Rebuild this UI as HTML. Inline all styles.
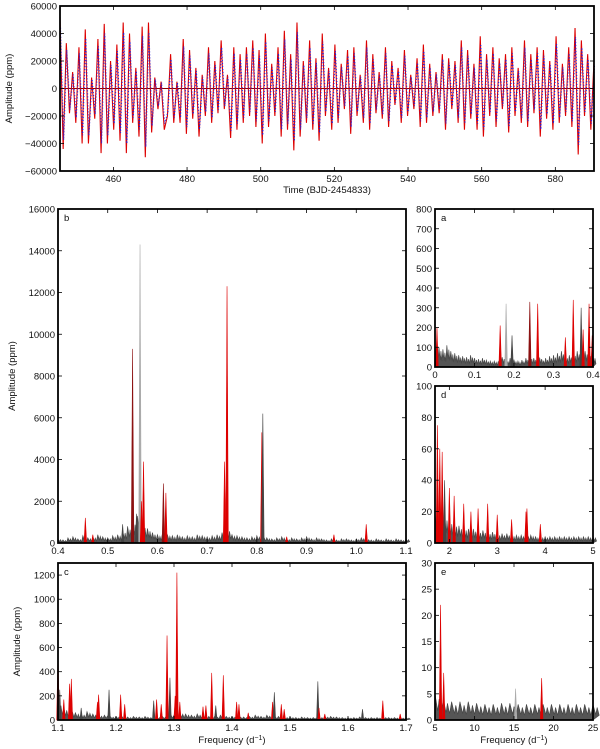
<!DOCTYPE html>
<html><head><meta charset="utf-8"><style>
body{margin:0;background:#fff;}
svg{display:block;font-family:"Liberation Sans","DejaVu Sans",sans-serif;}
</style></head><body>
<svg id="fig" width="600" height="749" viewBox="0 0 600 749" xmlns="http://www.w3.org/2000/svg"></svg>
<script>
// ---- time series data (successive extrema, ppm) ----
const tsStart = 445.5, tsEnd = 590.5;
const tsExtrema = [52000,-44000,33000,-18000,12000,-25000,30000,-40000,43000,-40000,8000,-22000,36000,-47000,47000,-40000,20000,-30000,32000,-38000,48000,-47000,40000,-25000,15000,-35000,45000,-50000,48000,-32000,8000,-15000,5000,-30000,-20000,25000,-25000,5000,-25000,36000,-33000,28000,-22000,15000,-35000,10000,-20000,30000,-25000,20000,-18000,35000,-15000,10000,-36000,30000,-30000,25000,-25000,30000,-20000,35000,-28000,28000,-40000,40000,-28000,18000,-20000,30000,-35000,42000,-30000,25000,-45000,48000,-35000,20000,-25000,35000,-30000,22000,-38000,40000,-20000,15000,-30000,32000,-25000,18000,-15000,28000,-33000,30000,-20000,10000,-25000,35000,-30000,25000,-18000,12000,-22000,30000,-28000,20000,-12000,15000,-25000,28000,-20000,10000,-15000,22000,-28000,32000,-25000,18000,-20000,12000,-18000,25000,-30000,22000,-15000,20000,-25000,35000,-30000,28000,-22000,18000,-30000,38000,-35000,25000,-20000,30000,-28000,22000,-15000,25000,-32000,30000,-20000,15000,-25000,35000,-28000,25000,-18000,30000,-35000,28000,-22000,20000,-30000,38000,-25000,18000,-20000,30000,-28000,44000,-48000,35000,-20000,25000,-30000,20000];
// ---- spectra data ----
const bNoise = [200,150,250,300,200,350,250,300,400,300,250,350,400,600,800,1100,1300,900,700,500,400,450,400,350,400,300,350,300,400,350,300,350,400,500,700,400,350,300,250,300,350,300,250,200,250,300,200,250,200,250,300,200,250,200,150,200,150,200,200,150,200,250,200,150,200,150,200,150,200,150,200];
const bFreq = [0.455,0.47,0.53,0.55,0.558,0.565,0.568,0.572,0.612,0.617,0.735,0.74,0.81,0.812,0.86,0.955,1.02];
const bAmp  = [1200,400,900,9300,1400,14300,2000,3900,2850,2400,3900,12300,5300,6200,300,400,900];
const bCol  = ['r','r','g','d','g','l','r','r','d','r','r','r','r','g','r','r','r'];
const aNoise = [120,100,90,110,80,70,60,55,50,60,45,40,45,35,30,30,28,50,35,45,35,30,35,45,50,45,60,40,45,55,60,70,80,55,60,70,80,100,80,70,55];
const aFreq = [0.005,0.165,0.18,0.195,0.24,0.26,0.33,0.35,0.37,0.375,0.39,0.398];
const aAmp  = [200,210,320,160,330,320,150,340,300,190,320,160];
const aCol  = ['r','r','l','g','d','r','r','r','g','r','r','r'];
const dNoise = [20,25,18,15,13,11,10,9,9,8,8,7,7,6,6,6,5,5,5,5,5,4,4,4,4,4,4,4,4,4,4,4,4,4];
const dFreq = [1.75,1.8,1.85,1.9,2.0,2.1,2.3,2.45,2.6,2.8,3.0,3.3,3.6,3.62,3.9];
const dAmp  = [75,60,58,40,35,30,25,20,22,25,18,15,20,22,12];
const dCol  = ['r','r','r','g','r','r','r','r','r','r','r','r','r','r','r'];
const eNoise = [5,4,3.5,3.5,3.5,3.2,3,3,3.2,3.2,3,3,3,3,3,3,3,3,3,3];
const eFreq = [5.7,6.1,15.2,18.5];
const eAmp  = [22,9,6,8];
const eCol  = ['r','r','l','r'];
const cNoise = [150,100,80,60,50,70,50,40,40,30,30,30,25,30,25,30,20,25,30,50,40,60,50,40,50,40,30,30,40,30,30,30,25,30,40,30,40,30,30,25,25,20,25,20,20,25,30,30,25,20,20,20,25,20,20,20,25,20,20,20,20];
const cFreq = [1.1,1.103,1.11,1.12,1.123,1.14,1.168,1.17,1.188,1.208,1.215,1.265,1.27,1.278,1.288,1.293,1.302,1.305,1.31,1.35,1.355,1.365,1.372,1.385,1.408,1.412,1.428,1.47,1.473,1.485,1.49,1.548,1.55,1.56,1.625,1.66,1.69];
const cAmp  = [580,250,170,300,340,100,150,210,250,210,130,160,170,130,700,350,200,1220,150,110,120,390,120,370,150,130,60,150,230,130,90,320,100,50,90,160,50];
const cCol  = ['r','g','r','r','r','g','r','r','g','r','r','g','r','r','r','g','r','r','r','r','r','r','g','r','r','r','r','r','g','r','r','g','r','r','g','r','r'];

const svg = document.getElementById('fig');
const NS = 'http://www.w3.org/2000/svg';
function mk(tag, attrs, parent){const e=document.createElementNS(NS,tag);for(const k in attrs)e.setAttribute(k,attrs[k]);(parent||svg).appendChild(e);return e;}
const colMap = {r:'#dd0000', d:'#8b1010', g:'#444', l:'#aaa'};

function axes(name, x0,x1,y0,y1, xd,yd, xt,yt, xfmt, yfmt, letter, ylab, xlab){
  const g = mk('g',{});
  
  
  const sx = v => x0 + (v-xd[0])/(xd[1]-xd[0])*(x1-x0);
  const sy = v => y1 - (v-yd[0])/(yd[1]-yd[0])*(y1-y0);
  return {g,sx,sy,finish(){
    const fr = mk('rect',{x:x0,y:y0,width:x1-x0,height:y1-y0,fill:'none',stroke:'#000','stroke-width':1.8},g);
    
    
    xt.forEach(v=>{const x=sx(v);
      mk('line',{x1:x,x2:x,y1:y1,y2:y1-4,stroke:'#000','stroke-width':0.8},g);
      mk('line',{x1:x,x2:x,y1:y0,y2:y0+4,stroke:'#000','stroke-width':0.8},g);
      const t=mk('text',{x:x,y:y1+11,'font-size':9.5,'text-anchor':'middle',fill:'#111'},g);t.textContent=xfmt(v);
      
      });
    yt.forEach(v=>{const y=sy(v);
      mk('line',{x1:x0,x2:x0+4,y1:y,y2:y,stroke:'#000','stroke-width':0.8},g);
      mk('line',{x1:x1,x2:x1-4,y1:y,y2:y,stroke:'#000','stroke-width':0.8},g);
      const t=mk('text',{x:x0-3,y:y+3.5,'font-size':9.5,'text-anchor':'end',fill:'#111'},g);t.textContent=yfmt(v);
      
      });
    if(letter){const t=mk('text',{x:x0+6,y:y0+12,'font-size':9.5,fill:'#111'},g);t.textContent=letter;
      
      }
    if(ylab){const cy=(y0+y1)/2;const t=mk('text',{x:ylab,y:cy,'font-size':9.5,'text-anchor':'middle',fill:'#111',transform:`rotate(-90 ${ylab} ${cy})`},g);t.textContent='Amplitude (ppm)';
      
      }
    if(xlab){const t=mk('text',{x:(x0+x1)/2,y:y1+xlab,'font-size':9.5,'text-anchor':'middle',fill:'#111'},g);t.innerHTML=xlab===22?'Time (BJD-2454833)':'Frequency (d<tspan dy="-3" font-size="7">−1</tspan><tspan dy="3">)</tspan>';
      
      }
  }};
}

function spectrum(name, box, xd, yd, xt, yt, xfmt, letter, ylab, xlab, noise, freqs, amps, cols){
  const A = axes(name, box[0],box[1],box[2],box[3], xd, yd, xt, yt, xfmt, v=>String(v), letter, ylab, xlab);
  const n = noise.length, step=(xd[1]-xd[0])/(n-1);
  let pts = `${A.sx(xd[0])},${A.sy(0)} `;
  noise.forEach((v,i)=>{
    const f = xd[0]+i*step;
    pts += `${A.sx(f)},${A.sy(v)} ${A.sx(f+step*0.33)},${A.sy(v*0.35)} ${A.sx(f+step*0.5)},${A.sy(v*0.8)} ${A.sx(f+step*0.75)},${A.sy(v*0.3)} `;
  });
  pts += `${A.sx(xd[1])},${A.sy(0)}`;
  const ns = mk('polygon',{points:pts,fill:'#555',stroke:'#444','stroke-width':0.6},A.g);
  
  
  freqs.forEach((f,i)=>{
    const x=A.sx(f);
    const p = mk('path',{d:`M${x-1.3},${A.sy(0)} L${x},${A.sy(amps[i])} L${x+1.3},${A.sy(0)} Z`,fill:colMap[cols[i]],stroke:colMap[cols[i]],'stroke-width':0.6},A.g);
    
    
  });
  A.finish();
}

// top time series
(function(){
  const A = axes('time-series-panel',60,594,6,171,[tsStart,tsEnd],[-60000,60000],[460,480,500,520,540,560,580],[-60000,-40000,-20000,0,20000,40000,60000],v=>String(v),v=>v<0?'−'+(-v):String(v),null,12,22);
  const step=(tsEnd-tsStart)/(tsExtrema.length-1);
  const zl = mk('line',{x1:A.sx(tsStart),x2:A.sx(tsEnd),y1:A.sy(0),y2:A.sy(0),stroke:'#8b0000','stroke-width':1},A.g);
  
  
  const pts = tsExtrema.map((v,i)=>`${A.sx(tsStart+i*step)},${A.sy(v)}`).join(' ');
  const red = mk('polyline',{points:pts,fill:'none',stroke:'#dd0000','stroke-width':1.1},A.g);
  
  
  const bpts = tsExtrema.map((v,i)=>`${A.sx(tsStart+(i+0.15)*step)},${A.sy(v*0.85)}`).join(' ');
  const blue = mk('polyline',{points:bpts,fill:'none',stroke:'#2020dd','stroke-width':1.2,'stroke-dasharray':'1 2'},A.g);
  
  
  A.finish();
})();

spectrum('panel-b',[58,406,209,543],[0.4,1.1],[0,16000],[0.4,0.5,0.6,0.7,0.8,0.9,1.0,1.1],[0,2000,4000,6000,8000,10000,12000,14000,16000],v=>v.toFixed(1),'b',15,null,bNoise,bFreq,bAmp,bCol);
spectrum('panel-a',[435,593,209,367],[0,0.4],[0,800],[0,0.1,0.2,0.3,0.4],[0,100,200,300,400,500,600,700,800],v=>v===0?'0':v.toFixed(1),'a',null,null,aNoise,aFreq,aAmp,aCol);
spectrum('panel-d',[435,593,386,543],[1.7,5],[0,100],[2,3,4,5],[0,20,40,60,80,100],v=>String(v),'d',null,null,dNoise,dFreq,dAmp,dCol);
spectrum('panel-c',[58,406,563,720],[1.1,1.7],[0,1300],[1.1,1.2,1.3,1.4,1.5,1.6,1.7],[0,200,400,600,800,1000,1200],v=>v.toFixed(1),'c',20,23,cNoise,cFreq,cAmp,cCol);
spectrum('panel-e',[435,593,563,720],[5,25],[0,30],[5,10,15,20,25],[0,5,10,15,20,25,30],v=>String(v),'e',null,23,eNoise,eFreq,eAmp,eCol);
</script>
</body></html>
